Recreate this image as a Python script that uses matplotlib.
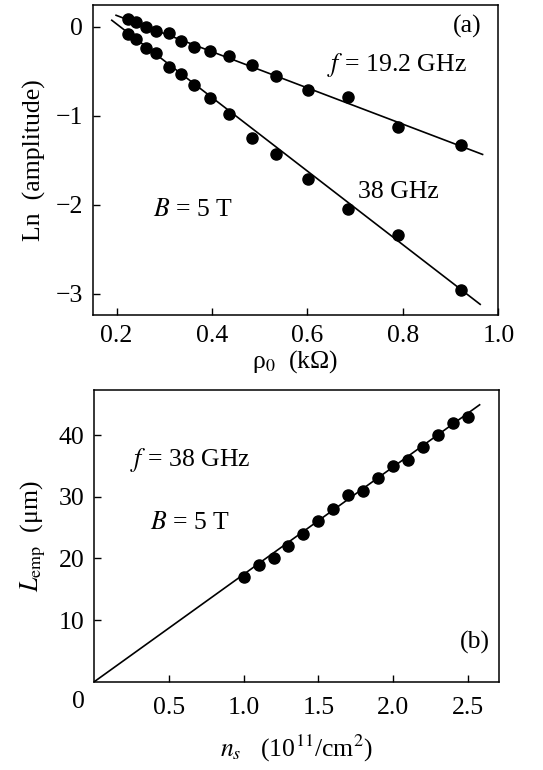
import matplotlib
matplotlib.use("Agg")
import matplotlib.pyplot as plt

plt.rcParams['font.family'] = ['Liberation Serif', 'DejaVu Serif']
plt.rcParams['mathtext.fontset'] = 'stix'
plt.rcParams['axes.unicode_minus'] = True

# panel (a): ln(amplitude) vs rho0
rho = [0.224, 0.241, 0.261, 0.282, 0.310, 0.335, 0.363, 0.396, 0.435,
       0.483, 0.535, 0.601, 0.684, 0.789, 0.922]
amp_19 = [0.094, 0.056, 0.0, -0.049, -0.064, -0.161, -0.225, -0.273, -0.330,
          -0.431, -0.547, -0.708, -0.783, -1.127, -1.326]
amp_38 = [-0.079, -0.135, -0.236, -0.292, -0.446, -0.528, -0.648, -0.794, -0.974,
          -1.251, -1.434, -1.712, -2.045, -2.345, -2.959]
fit19_x = [0.199, 0.967]
fit19_y = [0.131, -1.434]
fit38_x = [0.190, 0.962]
fit38_y = [0.075, -3.12]

# panel (b): L_emp vs n_s
ns = [1.0, 1.1, 1.2, 1.3, 1.4, 1.5, 1.6, 1.7, 1.8, 1.9, 2.0, 2.1, 2.2, 2.3, 2.4, 2.5]
lemp = [17, 19, 20, 22, 24, 26, 28, 30.3, 31, 33, 35, 36, 38, 40, 42, 43]
fitb_x = [0.0, 2.58]
fitb_y = [0.0, 44.9]

FS = 18.5

fig = plt.figure(figsize=(5.43, 7.70), dpi=100)
ax1 = fig.add_axes([0.1707, 0.5909, 0.747, 0.403])
ax2 = fig.add_axes([0.1737, 0.1147, 0.7453, 0.3788])

for ax in (ax1, ax2):
    for s in ax.spines.values():
        s.set_linewidth(1.1)
    ax.tick_params(direction='in', length=5, width=1.0, labelsize=FS,
                   top=False, right=False, pad=7)

# (a)
ax1.plot(fit19_x, fit19_y, color='black', lw=1.2)
ax1.plot(fit38_x, fit38_y, color='black', lw=1.2)
ax1.plot(rho, amp_19, 'o', color='black', ms=8)
ax1.plot(rho, amp_38, 'o', color='black', ms=8)
ax1.set_xlim(0.15, 1.0)
ax1.set_ylim(-3.24, 0.25)
ax1.set_xticks([0.2, 0.4, 0.6, 0.8, 1.0])
ax1.set_xticklabels(['0.2', '0.4', '0.6', '0.8', '1.0'])
ax1.set_yticks([0, -1, -2, -3])
ax1.set_xlabel(r'ρ$_0$  (kΩ)', fontsize=FS, labelpad=1)
ax1.set_ylabel('Ln  (amplitude)', fontsize=FS, labelpad=7)
ax1.text(0.934, 0.0, '(a)', fontsize=FS, ha='center', va='center')
ax1.text(0.641, -0.43, r'$f$ = 19.2 GHz', fontsize=FS, va='center')
ax1.text(0.706, -1.855, '38 GHz', fontsize=FS, va='center')
ax1.text(0.276, -2.06, r'$B$ = 5 T', fontsize=FS, va='center')

# (b)
ax2.plot(fitb_x, fitb_y, color='black', lw=1.2)
ax2.plot(ns, lemp, 'o', color='black', ms=8)
ax2.set_xlim(0, 2.71)
ax2.set_ylim(0, 47.3)
ax2.set_xticks([0.5, 1.0, 1.5, 2.0, 2.5])
ax2.set_xticklabels(['0.5', '1.0', '1.5', '2.0', '2.5'])
ax2.set_yticks([10, 20, 30, 40])
ax2.tick_params(axis='x', pad=11)
ax2.set_xlabel(r'$n_s$   (10$^{11}$/cm$^2$)', fontsize=FS, labelpad=10)
ax2.set_ylabel(r'$L_{\rm emp}$  (μm)', fontsize=FS, labelpad=8)
ax2.text(-0.105, -0.07, '0', fontsize=FS, ha='center', va='center',
         transform=ax2.get_xaxis_transform())
ax2.text(0.24, 35.9, r'$f$ = 38 GHz', fontsize=FS, va='center')
ax2.text(0.37, 25.7, r'$B$ = 5 T', fontsize=FS, va='center')
ax2.text(2.55, 6.3, '(b)', fontsize=FS, ha='center', va='center')

fig.savefig('out.png', dpi=100)
